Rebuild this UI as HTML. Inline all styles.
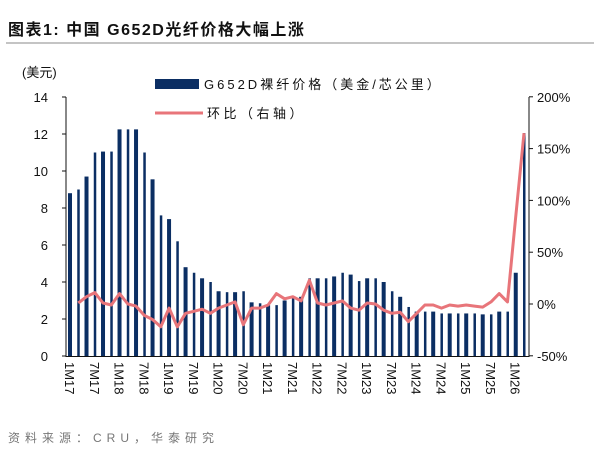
<!DOCTYPE html><html><head><meta charset="utf-8"><style>body{margin:0;background:#fff}svg text{font-family:"Liberation Sans","Noto Sans CJK SC",sans-serif}</style></head><body>
<svg width="600" height="460" xmlns="http://www.w3.org/2000/svg">
<text x="8" y="35" font-size="16" font-weight="bold" fill="#111" letter-spacing="1.5">图表1:  中国 G652D光纤价格大幅上涨</text>
<line x1="6" y1="43" x2="594" y2="43" stroke="#888" stroke-width="1"/>
<text x="22" y="77" font-size="13" fill="#111">(美元)</text>
<g id="bars" fill="#0b2e63"></g>
<polyline id="ln" fill="none" stroke="#e8757a" stroke-width="3" stroke-linejoin="round"/>
<line x1="66" y1="97" x2="66" y2="357" stroke="#111"/>
<line x1="66" y1="356.5" x2="529" y2="356.5" stroke="#111"/>
<line x1="529" y1="97" x2="529" y2="357" stroke="#111"/>
<g id="ax" font-size="13" fill="#111"></g>
<rect x="155" y="79" width="44" height="10" fill="#0b2e63"/>
<text x="204" y="89" font-size="13" fill="#111" letter-spacing="3">G652D裸纤价格（美金/芯公里）</text>
<line x1="155" y1="113" x2="203" y2="113" stroke="#e8757a" stroke-width="3"/>
<text x="207" y="118" font-size="13" fill="#111" letter-spacing="3.5">环比（右轴）</text>
<text x="8" y="442" font-size="12" fill="#777" letter-spacing="5">资料来源：CRU，华泰研究</text>
</svg>
<script>
var ns="http://www.w3.org/2000/svg";
var b=[8.8,9.0,9.7,11.0,11.05,11.05,12.25,12.25,12.25,11.0,9.55,7.6,7.4,6.2,4.8,4.5,4.2,4.0,3.5,3.45,3.45,3.5,2.9,2.85,2.75,2.75,3.0,3.2,3.2,4.2,4.2,4.2,4.3,4.5,4.4,4.05,4.2,4.2,4.0,3.5,3.2,2.65,2.4,2.4,2.4,2.3,2.3,2.3,2.3,2.3,2.25,2.25,2.4,2.4,4.5,12.05];
var l=[1,7,11,1,-1,10,0,-2,-11,-15,-22,-4,-22,-9,-7,-5,-9,-4,-1,2,-20,-4,-4,-1,10,5,7,3,23,1,-1,1,3,-4,-6,1,0,-6,-9,-8,-17,-9,-1,-1,-4,-1,-2,-1,-2,-3,2,10,2,84,165];
var g=document.getElementById("bars"),x0=70,x1=524,n=b.length,dx=(x1-x0)/(n-1);
b.forEach(function(v,i){var r=document.createElementNS(ns,"rect");var h=v*18.5;r.setAttribute("x",x0+i*dx-(i%2?1:2));r.setAttribute("width",i%2?2.5:4);r.setAttribute("y",356-h);r.setAttribute("height",h);g.appendChild(r);});
var pts=[],lx0=x0+dx,ldx=(x1-lx0)/(l.length-1);
l.forEach(function(v,i){pts.push((lx0+i*ldx).toFixed(1)+","+(304-v*1.036).toFixed(1));});
document.getElementById("ln").setAttribute("points",pts.join(" "));
var ax=document.getElementById("ax"),s="";
for(var k=0;k<=14;k+=2){var y=356-k*18.5;s+='<line x1="62" x2="66" y1="'+y+'" y2="'+y+'" stroke="#111"/><text x="48" y="'+(y+5)+'" text-anchor="end">'+k+'</text>';}
[200,150,100,50,0,-50].forEach(function(p){var y=304-p*1.036;s+='<line x1="529" x2="533" y1="'+y+'" y2="'+y+'" stroke="#111"/><text x="537" y="'+(y+5)+'">'+p+'%</text>';});
var labs=["1M17","7M17","1M18","7M18","1M19","7M19","1M20","7M20","1M21","7M21","1M22","7M22","1M23","7M23","1M24","7M24","1M25","7M25","1M26"];
labs.forEach(function(t,i){var x=x0+i*3*dx;s+='<text transform="translate('+(x-5)+',362) rotate(90)" font-size="13">'+t+'</text>';});
ax.innerHTML=s;
</script>
</body></html>
